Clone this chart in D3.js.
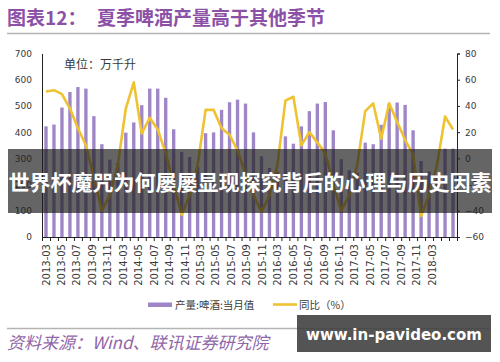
<!DOCTYPE html>
<html>
<head>
<meta charset="utf-8">
<script src="https://cdn.jsdelivr.net/npm/d3@7"></script>
<style>
  body { margin: 0; background: #fff; }
  svg { display: block; }
</style>
</head>
<body>
<div id="chart"></div>
<script>
// ---------- data
const months = [
  "2013-03","2013-04","2013-05","2013-06","2013-07","2013-08","2013-09","2013-10","2013-11","2013-12",
  "2014-03","2014-04","2014-05","2014-06","2014-07","2014-08","2014-09","2014-10","2014-11","2014-12",
  "2015-03","2015-04","2015-05","2015-06","2015-07","2015-08","2015-09","2015-10","2015-11","2015-12",
  "2016-03","2016-04","2016-05","2016-06","2016-07","2016-08","2016-09","2016-10","2016-11","2016-12",
  "2017-03","2017-04","2017-05","2017-06","2017-07","2017-08","2017-09","2017-10","2017-11","2017-12",
  "2018-03","2018-04"
]
// 产量:啤酒:当月值 (万千升)
const output = [
  422, 429, 494, 553, 572, 566, 461, 354, 295, 282,
  398, 437, 503, 566, 566, 531, 411, 325, 305, 268,
  396, 399, 485, 514, 524, 509, 399, 308, 263, 250,
  384, 356, 422, 480, 509, 515, 407, 297, 255, 245,
  360, 354, 428, 509, 513, 504, 407, 290, 250, 235,
  337, 337
]
// 同比 (%)
const yoy = [
  51, 52, 49, 38, 23, 10, -15, -40, -28, -5,
  38, 58, 19, 31, 22, 4, -20, -43, -28, -5,
  37, 37, 23, 18, 6, -12, -28, -41, -28, -5,
  44, 47, 10, 20, 12, 4, -20, -40, -28, -5,
  36, 42, 15, 42, 28, 14, 3, -44, -28, -5,
  32, 22
]
const leftTicks = [0, 100, 200, 300, 400, 500, 600, 700]
const rightTicks = [-60, -40, -20, 0, 20, 40, 60, 80]
const seriesNames = ["产量:啤酒:当月值", "同比（%）"]

// ---------- dimensions
const dims = {
  width: 500,
  height: 362,
  left: 42,
  right: 457,
  top: 53.5,
  bottom: 237,
  lastLabel: 432
}

const purple = "#9f86c6"
const gold = "#efc232"
const ink = "#3a3a3a"
const cjk = "'Noto Sans CJK SC', sans-serif"
const num = "'DejaVu Sans', sans-serif"

const svg = d3.select("#chart")
  .append("svg")
  .attr("width", dims.width)
  .attr("height", dims.height)

svg.append("rect")
  .attr("width", dims.width)
  .attr("height", dims.height)
  .attr("fill", "#fff")

// ---------- title
svg.append("text")
  .attr("x", 7)
  .attr("y", 25)
  .attr("fill", "#8c51a6")
  .style("font-family", cjk)
  .style("font-size", "19px")
  .style("font-weight", "bold")
  .text("图表12：")

svg.append("text")
  .attr("x", 97)
  .attr("y", 25)
  .attr("fill", "#8c51a6")
  .style("font-family", cjk)
  .style("font-size", "19px")
  .style("font-weight", "bold")
  .text("夏季啤酒产量高于其他季节")

svg.append("line")
  .attr("x1", 7).attr("x2", 490)
  .attr("y1", 33.5).attr("y2", 33.5)
  .attr("stroke", "#b4b4b4")
  .attr("stroke-width", 1.5)

// ---------- scales
const xScale = d3.scaleBand()
  .domain(months)
  .range([dims.left, dims.right])
  .paddingInner(0.58)
  .paddingOuter(0.29)

const xTickScale = d3.scaleLinear()
  .domain([0, months.length])
  .range([dims.left, dims.right])

const yLeft = d3.scaleLinear()
  .domain([0, 700])
  .range([dims.bottom, dims.top])

const yRight = d3.scaleLinear()
  .domain([-60, 80])
  .range([dims.bottom, dims.top])

const xCenter = d => xScale(d) + xScale.bandwidth() / 2

// the category labels in the picture sit a little tighter than the bars
const labelScale = d3.scaleLinear()
  .domain([0, 50])
  .range([xCenter(months[0]), dims.lastLabel])

// ---------- bars
svg.append("g")
  .selectAll("rect")
  .data(months)
  .join("rect")
  .attr("x", d => xScale(d))
  .attr("y", (d, i) => yLeft(output[i]))
  .attr("width", xScale.bandwidth())
  .attr("height", (d, i) => yLeft(0) - yLeft(output[i]))
  .attr("fill", purple)

// ---------- yoy line
const lineGenerator = d3.line()
  .x(d => xCenter(d))
  .y((d, i) => yRight(yoy[i]))

svg.append("path")
  .datum(months)
  .attr("d", lineGenerator)
  .attr("fill", "none")
  .attr("stroke", gold)
  .attr("stroke-width", 2.6)
  .attr("stroke-linejoin", "round")

// ---------- axes
const leftAxis = svg.append("g")
  .attr("transform", `translate(${dims.left},0)`)
  .call(d3.axisLeft(yLeft).tickValues(leftTicks).tickSize(0).tickPadding(10))
leftAxis.select(".domain").attr("stroke", "#222")

const rightAxis = svg.append("g")
  .attr("transform", `translate(${dims.right},0)`)
  .call(d3.axisRight(yRight).tickValues(rightTicks).tickSize(3).tickPadding(5))
rightAxis.select(".domain").attr("stroke", "#222")
rightAxis.selectAll(".tick line").attr("stroke", "#222")

svg.selectAll(".tick text")
  .attr("fill", ink)
  .style("font-family", num)
  .style("font-size", "9px")

const bottomAxis = svg.append("g")
  .attr("transform", `translate(0,${dims.bottom})`)
  .call(d3.axisBottom(xTickScale)
    .tickValues(d3.range(months.length + 1))
    .tickSize(4)
    .tickFormat(""))
bottomAxis.select(".domain").attr("stroke", "#222")
bottomAxis.selectAll(".tick line").attr("stroke", "#222")

svg.append("g")
  .selectAll("text")
  .data(months.map((d, i) => ({ d, i })).filter(o => o.i % 2 === 0))
  .join("text")
  .attr("transform", o => `translate(${labelScale(o.i) + 3.6},${dims.bottom + 7}) rotate(-90)`)
  .attr("text-anchor", "end")
  .attr("fill", ink)
  .style("font-family", num)
  .style("font-size", "10px")
  .text(o => o.d)

// unit label
svg.append("text")
  .attr("x", 64)
  .attr("y", 69)
  .attr("fill", ink)
  .style("font-family", cjk)
  .style("font-size", "12px")
  .text("单位：万千升")

// ---------- legend
svg.append("rect")
  .attr("x", 148).attr("y", 302.5)
  .attr("width", 24).attr("height", 4.5)
  .attr("fill", purple)

svg.append("text")
  .attr("x", 175).attr("y", 308.5)
  .attr("fill", ink)
  .style("font-family", cjk)
  .style("font-size", "10.5px")
  .text(seriesNames[0])

svg.append("line")
  .attr("x1", 273).attr("x2", 297)
  .attr("y1", 304.5).attr("y2", 304.5)
  .attr("stroke", gold)
  .attr("stroke-width", 2.6)

svg.append("text")
  .attr("x", 299).attr("y", 308.5)
  .attr("fill", ink)
  .style("font-family", cjk)
  .style("font-size", "10.5px")
  .text(seriesNames[1])

// ---------- source line
svg.append("line")
  .attr("x1", 7).attr("x2", 490)
  .attr("y1", 328.5).attr("y2", 328.5)
  .attr("stroke", "#b4b4b4")
  .attr("stroke-width", 1.5)

svg.append("text")
  .attr("x", 7)
  .attr("y", 349)
  .attr("fill", "#9066a8")
  .style("font-family", cjk)
  .style("font-size", "17px")
  .style("font-style", "italic")
  .text("资料来源：Wind、联讯证券研究院")

// ---------- overlays
svg.append("rect")
  .attr("x", 8).attr("y", 149)
  .attr("width", 484).attr("height", 64)
  .attr("fill", "rgba(28,28,28,0.68)")

svg.append("text")
  .attr("x", 250)
  .attr("y", 190)
  .attr("text-anchor", "middle")
  .attr("fill", "#fff")
  .style("font-family", cjk)
  .style("font-size", "21px")
  .style("font-weight", "bold")
  .text("世界杯魔咒为何屡屡显现探究背后的心理与历史因素")

svg.append("rect")
  .attr("x", 297).attr("y", 315)
  .attr("width", 194).attr("height", 37)
  .attr("fill", "rgba(60,60,60,0.88)")

svg.append("text")
  .attr("x", 394)
  .attr("y", 340)
  .attr("text-anchor", "middle")
  .attr("fill", "#fff")
  .style("font-family", num)
  .style("font-size", "15px")
  .style("font-weight", "bold")
  .text("www.in-pavideo.com")
</script>
</body>
</html>
